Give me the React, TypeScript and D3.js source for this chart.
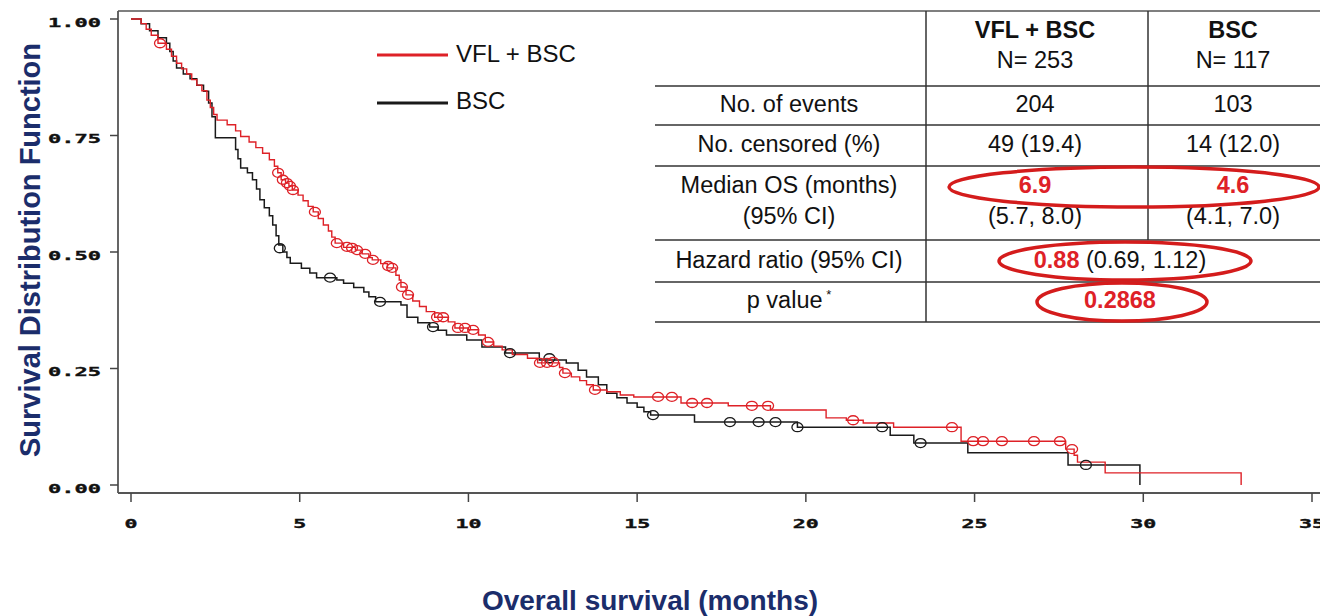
import React from "react";
import * as d3 from "d3";

// ---- Data ----
const xTicks = [0, 5, 10, 15, 20, 25, 30, 35];
const yTicks = [0, 0.25, 0.5, 0.75, 1.0];
const yTickLabels = ["0.00", "0.25", "0.50", "0.75", "1.00"];

// VFL + BSC Kaplan-Meier steps [time, survival after step]
const vflSteps: [number, number][] = [
  [0, 1], [0.3, 0.99], [0.45, 0.978], [0.6, 0.965], [0.8, 0.948], [1.05, 0.935], [1.2, 0.92],
  [1.35, 0.905], [1.5, 0.893], [1.65, 0.882], [1.8, 0.87], [1.95, 0.858], [2.1, 0.846], [2.25, 0.826],
  [2.35, 0.81], [2.45, 0.795], [2.55, 0.783], [2.85, 0.773], [3.1, 0.76], [3.25, 0.748], [3.5, 0.736],
  [3.7, 0.724], [3.9, 0.712], [4.1, 0.698], [4.25, 0.684], [4.35, 0.67], [4.45, 0.655], [4.58, 0.648],
  [4.68, 0.642], [4.78, 0.633], [4.95, 0.622], [5.1, 0.61], [5.25, 0.598], [5.4, 0.586], [5.55, 0.572],
  [5.7, 0.558], [5.85, 0.545], [5.95, 0.532], [6.05, 0.519], [6.3, 0.51], [6.65, 0.504], [6.85, 0.496],
  [7.05, 0.488], [7.15, 0.483], [7.4, 0.475], [7.6, 0.466], [7.85, 0.45], [7.95, 0.44], [8.0, 0.425],
  [8.15, 0.408], [8.35, 0.395], [8.55, 0.383], [8.75, 0.372], [9.0, 0.36], [9.4, 0.35], [9.6, 0.337],
  [10.0, 0.333], [10.3, 0.322], [10.5, 0.307], [10.75, 0.298], [11.0, 0.29], [11.3, 0.28], [11.75, 0.272],
  [12.05, 0.262], [12.7, 0.252], [12.8, 0.24], [13.05, 0.232], [13.3, 0.224], [13.5, 0.215], [13.7, 0.204],
  [14.1, 0.2], [14.5, 0.193], [14.9, 0.189], [16.3, 0.176], [17.7, 0.17], [18.95, 0.161], [20.6, 0.144],
  [21.2, 0.139], [21.7, 0.133], [22.6, 0.124], [24.6, 0.094], [27.7, 0.077], [27.95, 0.064], [28.05, 0.049],
  [28.87, 0.026], [32.9, 0],
];
const vflCensored: [number, number][] = [
  [0.86, 0.948], [4.36, 0.67], [4.5, 0.655], [4.62, 0.648], [4.71, 0.642], [4.8, 0.633], [5.45, 0.586],
  [6.1, 0.519], [6.4, 0.511], [6.55, 0.509], [6.7, 0.504], [6.94, 0.496], [7.17, 0.483], [7.62, 0.47],
  [7.74, 0.466], [8.03, 0.425], [8.21, 0.408], [9.07, 0.36], [9.25, 0.36], [9.69, 0.337], [9.9, 0.337],
  [10.14, 0.333], [10.58, 0.307], [12.12, 0.262], [12.33, 0.262], [12.51, 0.264], [12.86, 0.24],
  [13.75, 0.204], [15.62, 0.189], [16.03, 0.189], [16.63, 0.176], [17.07, 0.176], [18.4, 0.17],
  [18.88, 0.17], [21.4, 0.139], [24.33, 0.124], [24.96, 0.094], [25.25, 0.094], [25.81, 0.094],
  [26.76, 0.094], [27.53, 0.094], [27.89, 0.077],
];

// BSC Kaplan-Meier steps
const bscSteps: [number, number][] = [
  [0, 1], [0.3, 0.99], [0.55, 0.975], [0.8, 0.96], [1.05, 0.948], [1.15, 0.93], [1.25, 0.91],
  [1.35, 0.895], [1.55, 0.882], [1.75, 0.872], [1.95, 0.858], [2.15, 0.845], [2.3, 0.82], [2.4, 0.79],
  [2.5, 0.745], [3.1, 0.72], [3.17, 0.7], [3.25, 0.68], [3.45, 0.67], [3.6, 0.655], [3.72, 0.635],
  [3.82, 0.612], [3.95, 0.595], [4.1, 0.578], [4.2, 0.558], [4.3, 0.535], [4.38, 0.515], [4.5, 0.5],
  [4.62, 0.488], [4.72, 0.476], [5.05, 0.465], [5.3, 0.455], [5.5, 0.445], [6.1, 0.44], [6.3, 0.433],
  [6.6, 0.424], [6.9, 0.414], [7.05, 0.404], [7.25, 0.393], [8.0, 0.386], [8.18, 0.36], [8.5, 0.348],
  [8.85, 0.339], [9.1, 0.332], [9.35, 0.322], [9.95, 0.311], [10.4, 0.296], [11.1, 0.283], [12.1, 0.268],
  [12.9, 0.262], [13.25, 0.246], [13.5, 0.232], [13.85, 0.215], [14.1, 0.197], [14.4, 0.187],
  [14.7, 0.176], [15.0, 0.167], [15.2, 0.157], [15.4, 0.15], [16.7, 0.135], [19.75, 0.124],
  [22.5, 0.107], [23.2, 0.09], [24.8, 0.069], [27.77, 0.043], [29.9, 0],
];
const bscCensored: [number, number][] = [
  [4.41, 0.508], [5.9, 0.445], [7.38, 0.393], [8.95, 0.339], [11.23, 0.283], [12.4, 0.272],
  [15.47, 0.15], [17.75, 0.135], [18.6, 0.135], [19.1, 0.135], [19.75, 0.124], [22.26, 0.124],
  [23.4, 0.09], [28.3, 0.043],
];

const legendLabels = ["VFL + BSC", "BSC"];
const RED = "#de2127";
const BLACK = "#1a1a1a";
const NAVY = "#1b2d6b";
const ELLIPSE_RED = "#d41c1c";

export default function App() {
  const x = d3.scaleLinear().domain([0, 35]).range([131, 1312]);
  const y = d3.scaleLinear().domain([0, 1]).range([485, 19]);
  const line = d3
    .line<[number, number]>()
    .x((d) => x(d[0]))
    .y((d) => y(d[1]))
    .curve(d3.curveStepAfter);

  const tickFont = "'DejaVu Sans Mono', 'Liberation Mono', monospace";
  const tableFont = "'Liberation Sans', Arial, sans-serif";
  const tfs = 23.5;

  const axisLeft = 118;
  const axisBottom = 493;
  const frameTop = 11;

  const colL = 789, colA = 1035, colB = 1233;

  return (
    <svg
      width={1320}
      height={616}
      style={{ position: "absolute", left: 0, top: 0, background: "#fff" }}
      fontFamily={tableFont}
    >
      <rect x={0} y={0} width={1320} height={616} fill="#fff" />
      {/* frame */}
      <line x1={axisLeft} x2={1320} y1={frameTop} y2={frameTop} stroke="#555" strokeWidth={1.6} />
      <line x1={axisLeft} x2={axisLeft} y1={frameTop} y2={axisBottom} stroke="#555" strokeWidth={1.8} />
      <line x1={axisLeft} x2={1320} y1={axisBottom} y2={axisBottom} stroke="#555" strokeWidth={1.8} />

      {/* y ticks */}
      {yTicks.map((t, i) => (
        <g key={"y" + i}>
          <line x1={110} x2={axisLeft} y1={y(t)} y2={y(t)} stroke="#444" strokeWidth={1.5} />
          <text
            x={48}
            y={y(t) + 7.5}
            fontFamily={tickFont}
            fontWeight="bold"
            fontSize={12}
            textLength={53}
            lengthAdjust="spacingAndGlyphs"
            fill="#111"
            stroke="#111"
            strokeWidth={0.35}
          >
            {yTickLabels[i]}
          </text>
        </g>
      ))}
      {/* x ticks */}
      {xTicks.map((t, i) => {
        const s = String(t);
        const w = s.length * 13;
        return (
          <g key={"x" + i}>
            <line x1={x(t)} x2={x(t)} y1={axisBottom} y2={502} stroke="#444" strokeWidth={1.5} />
            <text
              x={x(t) - w / 2}
              y={528}
              fontFamily={tickFont}
              fontWeight="bold"
              fontSize={12}
              textLength={w}
              lengthAdjust="spacingAndGlyphs"
              fill="#111"
              stroke="#111"
              strokeWidth={0.35}
            >
              {s}
            </text>
          </g>
        );
      })}

      {/* axis titles */}
      <text
        transform={`translate(40,250) rotate(-90)`}
        textAnchor="middle"
        fontWeight="bold"
        fontSize={29}
        fill={NAVY}
        fontFamily="'Liberation Sans', Arial, sans-serif"
      >
        Survival Distribution Function
      </text>
      <text
        x={650}
        y={610}
        textAnchor="middle"
        fontWeight="bold"
        fontSize={28}
        fill={NAVY}
        fontFamily="'Liberation Sans', Arial, sans-serif"
      >
        Overall survival (months)
      </text>

      {/* curves */}
      <path d={line(bscSteps) || ""} fill="none" stroke={BLACK} strokeWidth={1.5} />
      <path d={line(vflSteps) || ""} fill="none" stroke={RED} strokeWidth={1.4} />
      {bscCensored.map((d, i) => (
        <ellipse key={"bc" + i} cx={x(d[0])} cy={y(d[1])} rx={5.5} ry={4.5} fill="none" stroke={BLACK} strokeWidth={1.3} />
      ))}
      {vflCensored.map((d, i) => (
        <ellipse key={"vc" + i} cx={x(d[0])} cy={y(d[1])} rx={5.5} ry={4.5} fill="none" stroke={RED} strokeWidth={1.3} />
      ))}

      {/* legend */}
      <line x1={377} x2={448} y1={55} y2={55} stroke={RED} strokeWidth={3} />
      <text x={456} y={62} fontSize={24} fill="#111">{legendLabels[0]}</text>
      <line x1={377} x2={448} y1={103} y2={103} stroke={BLACK} strokeWidth={3} />
      <text x={456} y={109} fontSize={24} fill="#111">{legendLabels[1]}</text>

      {/* table */}
      <g stroke="#333" strokeWidth={1.5}>
        {[86, 125, 166, 240, 282, 322].map((yy) => (
          <line key={yy} x1={655} x2={1320} y1={yy} y2={yy} />
        ))}
        <line x1={926} x2={926} y1={frameTop} y2={322} />
        <line x1={1148} x2={1148} y1={frameTop} y2={240} />
      </g>
      <g fontSize={tfs} fill="#111" textAnchor="middle">
        <text x={colA} y={38} fontWeight="bold">VFL + BSC</text>
        <text x={colA} y={68}>N= 253</text>
        <text x={colB} y={38} fontWeight="bold">BSC</text>
        <text x={colB} y={68}>N= 117</text>

        <text x={colL} y={112}>No. of events</text>
        <text x={colA} y={112}>204</text>
        <text x={colB} y={112}>103</text>

        <text x={colL} y={152}>No. censored (%)</text>
        <text x={colA} y={152}>49 (19.4)</text>
        <text x={colB} y={152}>14 (12.0)</text>

        <text x={colL} y={193}>Median OS (months)</text>
        <text x={colL} y={224}>(95% CI)</text>
        <text x={colA} y={193} fontWeight="bold" fill={RED}>6.9</text>
        <text x={colB} y={193} fontWeight="bold" fill={RED}>4.6</text>
        <text x={colA} y={224}>(5.7, 8.0)</text>
        <text x={colB} y={224}>(4.1, 7.0)</text>

        <text x={colL} y={268}>Hazard ratio (95% CI)</text>
        <text x={1120} y={268}>
          <tspan fontWeight="bold" fill={RED}>0.88</tspan>
          <tspan> (0.69, 1.12)</tspan>
        </text>

        <text x={colL} y={308}>
          p value<tspan fontSize={13} dy={-9}> *</tspan>
        </text>
        <text x={1120} y={308} fontWeight="bold" fill={RED}>0.2868</text>
      </g>
      {/* ellipses */}
      <g fill="none" stroke={ELLIPSE_RED} strokeWidth={3.5}>
        <ellipse cx={1134} cy={187} rx={185} ry={20} />
        <ellipse cx={1125} cy={261} rx={126} ry={19} />
        <ellipse cx={1122} cy={302} rx={85} ry={19} />
      </g>
    </svg>
  );
}
